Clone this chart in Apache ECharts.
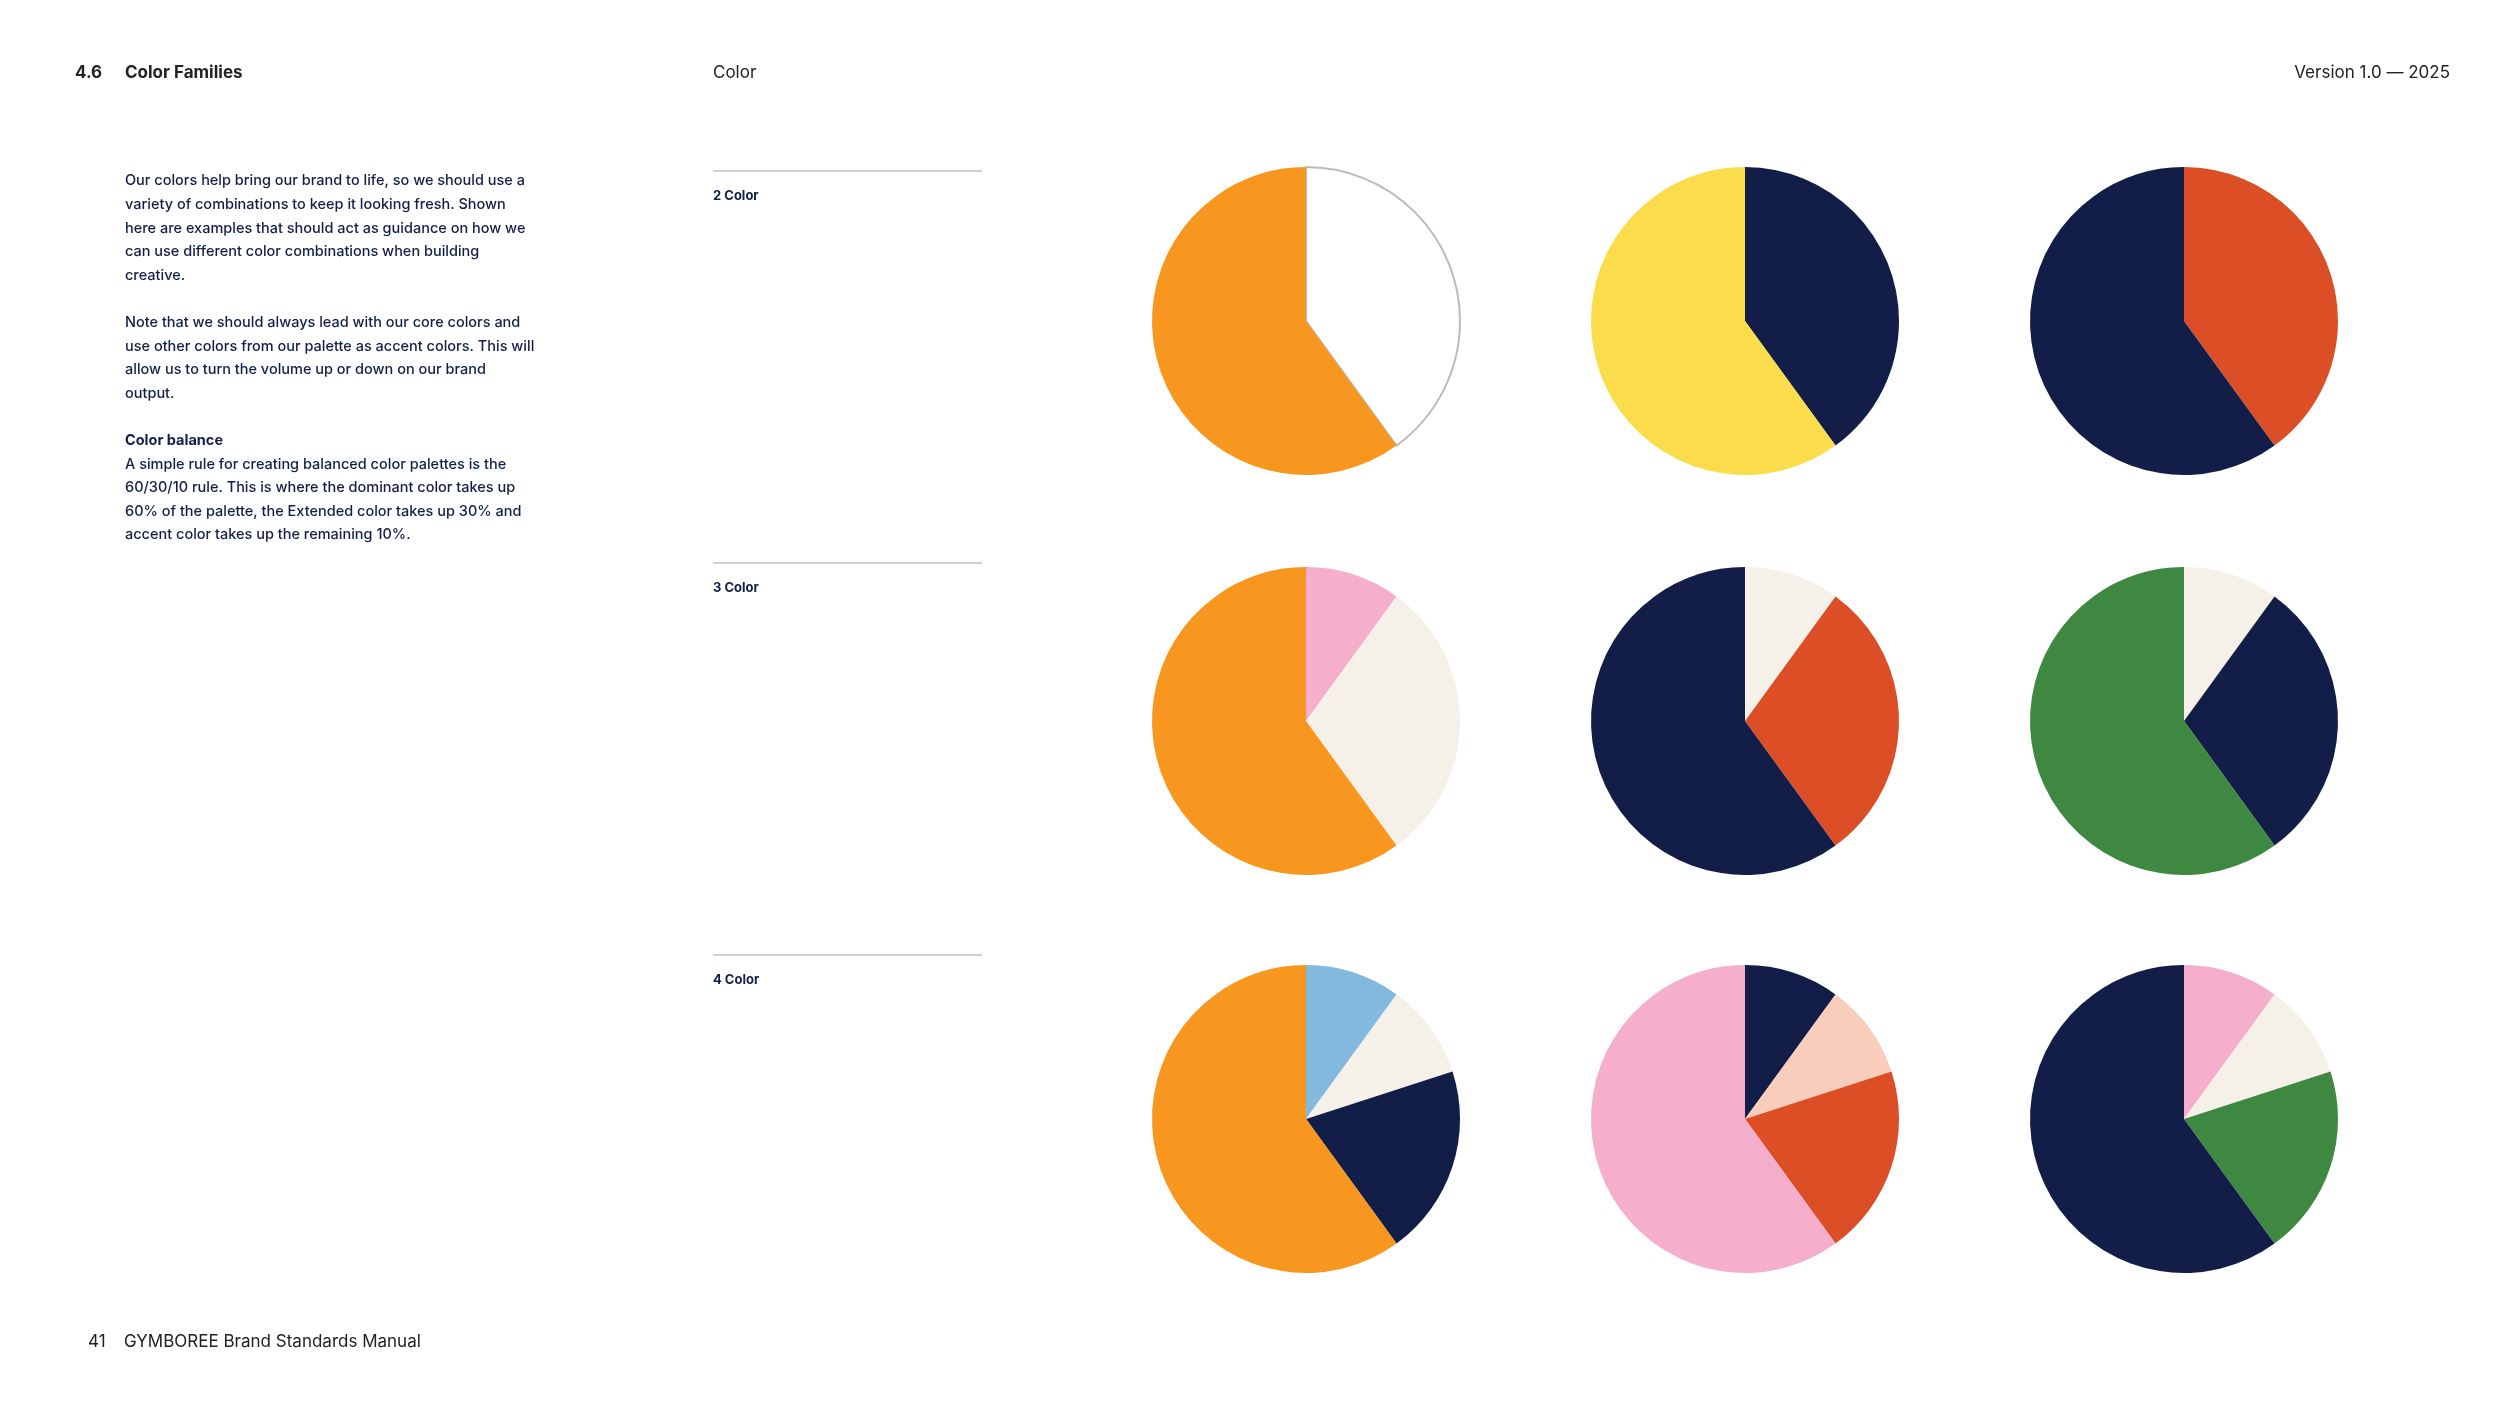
<!DOCTYPE html>
<html><head><meta charset="utf-8">
<script src="https://cdn.jsdelivr.net/npm/echarts@6/dist/echarts.min.js"></script>
<style>html,body{margin:0;padding:0;background:#fff}#c{width:2500px;height:1406px}</style>
</head><body><div id="c"></div>
<script>
const rowLabels = ['2 Color','3 Color','4 Color'];
const C = {orange:'#F7971F',yellow:'#FBDC4B',navy:'#121E48',red:'#DC4E25',pink:'#F5AECB',cream:'#F5F1E8',green:'#3E8841',blue:'#83B8DF',peach:'#F9CDBC',white:'#FFFFFF'};
// each pie: values (clockwise from 12 o'clock) and colors
const pieValues = [
  [[40,60],[40,60],[40,60]],
  [[10,30,60],[10,30,60],[10,30,60]],
  [[10,10,20,60],[10,10,20,60],[10,10,20,60]]
];
const pieColors = [
  [['white','orange'],['navy','yellow'],['red','navy']],
  [['pink','cream','orange'],['cream','red','navy'],['cream','navy','green']],
  [['blue','cream','navy','orange'],['navy','peach','red','pink'],['pink','cream','green','navy']]
];
const colX = [1306,1745,2184], rowY = [321,721,1119], R = 154;
const paragraphs = [
 ['Our colors help bring our brand to life, so we should use a','variety of combinations to keep it looking fresh. Shown','here are examples that should act as guidance on how we','can use different color combinations when building','creative.'],
 ['Note that we should always lead with our core colors and','use other colors from our palette as accent colors. This will','allow us to turn the volume up or down on our brand','output.']
];
const balance = ['A simple rule for creating balanced color palettes is the','60/30/10 rule. This is where the dominant color takes up','60% of the palette, the Extended color takes up 30% and','accent color takes up the remaining 10%.'];

const series = [];
pieValues.forEach((row,r)=>row.forEach((vals,c)=>{
  series.push({type:'pie',center:[colX[c],rowY[r]],radius:[0,R],startAngle:90,clockwise:true,
    label:{show:false},labelLine:{show:false},silent:true,animation:false,
    data:vals.map((v,i)=>{const col=pieColors[r][c][i];return {value:v,itemStyle:{color:C[col],
      borderColor: col==='white' ? '#bbbbbb' : C[col], borderWidth: col==='white'?2:0}};})});
}));
const F='Inter, "Noto Sans", sans-serif', TC='#121E48';
const g = [];
const txt=(x,y,s,size,w,color,align)=>g.push({type:'text',left:undefined,x:x,y:y,style:{text:s,fontSize:size,fontWeight:w,fill:color||TC,fontFamily:F,textAlign:align||'left',textVerticalAlign:'middle'}});
txt(75,73,'4.6',17,'bold','#222');
txt(125,73,'Color Families',17,'bold','#222');
txt(713,73,'Color',17,'normal','#222');
txt(2450,73,'Version 1.0 — 2025',17,'normal','#222','right');
let y=181;
paragraphs.forEach(p=>{p.forEach(l=>{txt(125,y,l,14.5,500);y+=23.6;});y+=23.6;});
txt(125,y,'Color balance',14.5,'bold');y+=23.6;
balance.forEach(l=>{txt(125,y,l,14.5,500);y+=23.6;});
[171,563,955].forEach((ly,i)=>{
  g.push({type:'line',shape:{x1:713,y1:ly,x2:982,y2:ly},style:{stroke:'#cfcfcf',lineWidth:2}});
  txt(713,ly+25,rowLabels[i],13,'bold');
});
txt(88,1342,'41',17,'normal','#222');
txt(124,1342,'GYMBOREE Brand Standards Manual',17,'normal','#222');
const ch=echarts.init(document.getElementById('c'));
ch.setOption({backgroundColor:'#fff',animation:false,series:series,graphic:g});
</script></body></html>
